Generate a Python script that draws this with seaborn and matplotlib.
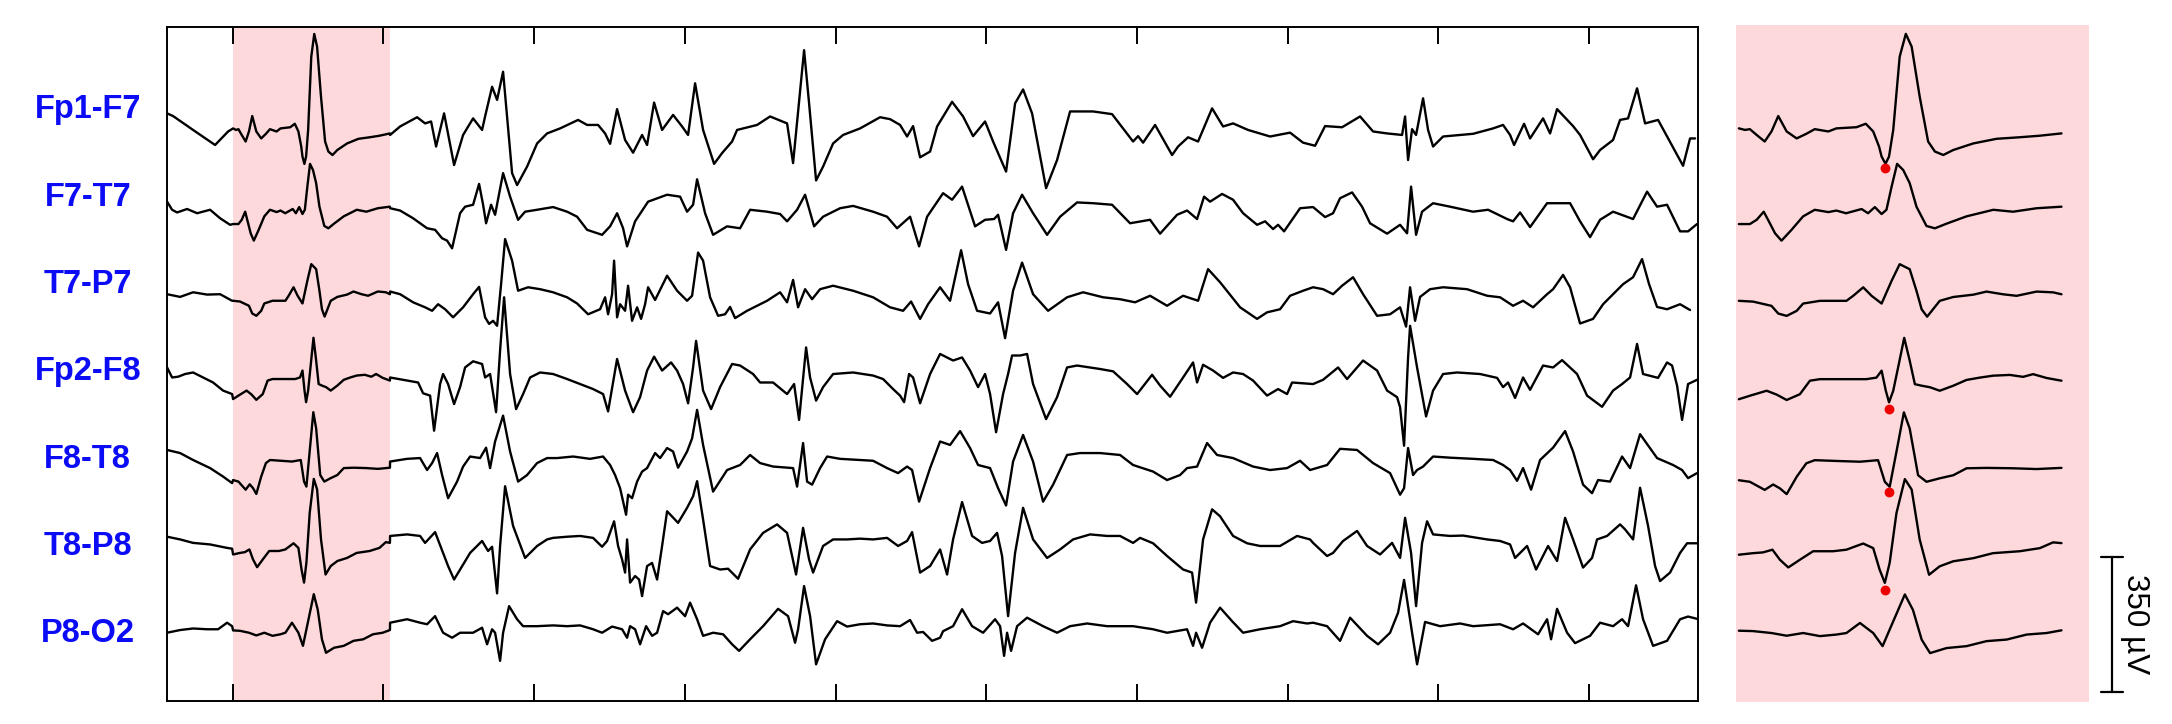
import numpy as np
import pandas as pd
import matplotlib.pyplot as plt
import seaborn as sns

# recording: main strip in samples, highlighted window (right panel) in ms
FS = 150.7            # samples per second (tick every second)
WIN = (151, 308)      # highlighted window in samples
WIN_MS = 1000         # window length shown on the right
STEP_UV = 215         # vertical spacing between channels

CHANNELS = ["Fp1-F7", "F7-T7", "T7-P7", "Fp2-F8", "F8-T8", "T8-P8", "P8-O2"]

# (sample, uV) outside the window
FP1F7 = [(85, 43), (91, 36), (111, 0), (133, -39), (146, -4),
         (308, -13), (318, 9), (335, 33), (343, 17), (349, 22), (354, -43), (362, 43), (372, -91), (381, -13),
         (391, 30), (400, 0), (403, 35), (410, 112), (415, 78), (421, 151), (430, -112), (435, -143), (445, -95),
         (455, -35), (465, -9), (478, 4), (496, 26), (505, 13), (516, 13), (523, -9), (528, -36), (535, 54),
         (543, -26), (551, -59), (560, -13), (565, -39), (572, 71), (580, 0), (591, 39), (600, 9), (606, -13),
         (613, 121), (621, 0), (632, -88), (640, -60), (650, -30), (655, 0), (675, 13), (688, 35), (705, 17),
         (711, -86), (722, 207), (727, 69), (734, -131), (741, -95), (751, -35), (761, -13), (778, 4), (798, 33),
         (808, 28), (818, 13), (825, -17), (831, 10), (838, -71), (848, -56), (855, 9), (870, 73), (881, 35),
         (891, -16), (903, 22), (911, -30), (924, -108), (933, 69), (941, 105), (950, 43), (964, -151), (975, -78),
         (988, 48), (1011, 48), (1030, 41), (1051, -30), (1056, -16), (1061, -33), (1073, 13), (1090, -65),
         (1096, -43), (1106, -19), (1116, -30), (1130, 56), (1141, 9), (1151, 17), (1166, 0), (1188, -17),
         (1208, -7), (1221, -33), (1233, -41), (1243, 10), (1260, 7), (1278, 35), (1291, -4), (1305, -9),
         (1320, -13), (1323, 35), (1326, -78), (1330, 2), (1334, -13), (1341, 82), (1346, 0), (1351, -43),
         (1361, -17), (1391, -10), (1411, 4), (1421, 13), (1428, -13), (1432, -39), (1442, 16), (1448, -22),
         (1461, 30), (1468, -9), (1475, 54), (1491, 10), (1498, -13), (1511, -76), (1518, -52), (1531, -26),
         (1538, 26), (1546, 30), (1555, 108), (1563, 17), (1576, 26), (1601, -93), (1608, -22), (1613, -22)]

F7T7 = [(85, 29), (90, 8), (95, 1), (105, 10), (115, -1), (128, 8), (138, -14), (148, -31),
        (308, 12), (318, 6), (331, -14), (345, -40), (353, -44), (360, -66), (365, -72), (370, -92), (378, -1),
        (383, 16), (391, 21), (397, 75), (401, 21), (404, -27), (409, 21), (413, -5), (421, 103), (428, 42),
        (436, -18), (443, 3), (455, 8), (471, 15), (485, 3), (495, -10), (505, -44), (520, -57), (528, -35),
        (535, -1), (541, -40), (545, -87), (553, -22), (566, 29), (585, 47), (598, 42), (605, 3), (611, 21),
        (615, 87), (623, -1), (631, -57), (645, -35), (658, -40), (668, 8), (685, 3), (698, -3), (705, -22),
        (715, 8), (723, 47), (732, -35), (741, -10), (758, 12), (771, 18), (791, 3), (805, -10), (815, -40),
        (828, -10), (837, -87), (845, -10), (861, 51), (870, 34), (880, 68), (893, -35), (903, -18), (912, -16),
        (916, -5), (924, -96), (931, -1), (940, 47), (951, -1), (965, -57), (978, -10), (995, 27), (1011, 25),
        (1030, 21), (1048, -27), (1068, -18), (1078, -54), (1095, -5), (1105, 6), (1115, -16), (1122, 42),
        (1128, 29), (1140, 49), (1151, 34), (1161, -1), (1175, -31), (1183, -22), (1191, -42), (1196, -31),
        (1202, -48), (1218, 12), (1231, 15), (1243, -11), (1251, -1), (1258, 38), (1270, 53), (1280, 16),
        (1288, -27), (1305, -54), (1318, -31), (1325, -53), (1329, 68), (1334, -57), (1340, 3), (1351, 25),
        (1368, 16), (1391, 3), (1406, 8), (1425, -16), (1431, -22), (1438, 1), (1448, -37), (1465, 25),
        (1475, 25), (1488, 25), (1498, -22), (1508, -63), (1518, -18), (1531, 3), (1551, -16), (1565, 55),
        (1575, 16), (1585, 21), (1598, -48), (1606, -48), (1615, -29)]

T7P7 = [(85, 4), (98, -3), (111, 9), (125, 3), (138, 4), (150, -13),
        (308, 11), (318, 4), (331, -17), (343, -30), (350, -39), (356, -22), (363, -35), (371, -56), (381, -30),
        (391, 4), (397, 23), (403, -56), (407, -73), (411, -65), (415, -78), (419, 30), (423, 147), (430, 91),
        (436, 13), (446, 22), (458, 17), (471, 9), (485, -4), (495, -20), (506, -48), (518, -35), (523, -4),
        (526, -48), (530, 4), (532, 91), (535, -56), (538, -22), (543, -39), (546, 26), (550, -65), (555, -30),
        (559, -60), (563, -22), (566, 22), (573, -11), (585, 52), (595, 13), (605, -13), (610, 0), (616, 112),
        (621, 91), (628, -4), (636, -52), (643, -48), (648, -29), (653, -58), (665, -39), (685, -13), (698, 9),
        (705, -17), (711, 41), (716, -30), (723, 17), (730, -9), (738, 17), (751, 26), (771, 13), (791, -4),
        (808, -30), (821, -39), (829, -15), (838, -60), (846, -22), (858, 22), (868, -13), (879, 118), (886, 30),
        (895, -39), (908, -46), (916, -17), (923, -110), (931, 13), (940, 86), (951, 4), (966, -39), (985, -4),
        (1001, 9), (1021, -4), (1038, -9), (1053, -17), (1068, 0), (1085, -26), (1101, 0), (1116, -13),
        (1126, 69), (1138, 35), (1158, -30), (1175, -60), (1185, -43), (1198, -35), (1208, 0), (1221, 13),
        (1231, 22), (1241, 17), (1251, 4), (1260, 26), (1271, 48), (1281, 4), (1295, -52), (1308, -48),
        (1318, -30), (1324, -80), (1328, 22), (1333, -65), (1338, -3), (1348, 17), (1361, 22), (1385, 17),
        (1405, 0), (1418, -4), (1431, -26), (1441, -13), (1451, -30), (1465, 4), (1471, 17), (1481, 54),
        (1488, 22), (1498, -72), (1511, -60), (1521, -22), (1531, 4), (1541, 30), (1551, 48), (1560, 95),
        (1567, 30), (1575, -29), (1585, -35), (1598, -22), (1608, -37)]

FP2F8 = [(85, 29), (90, 3), (96, 5), (103, 12), (111, 16), (121, 3), (131, -10), (141, -31), (150, -40),
         (308, 3), (325, -5), (336, -10), (341, -38), (348, -44), (352, -135), (358, -14), (361, 12), (366, -14),
         (372, -66), (378, -22), (383, 29), (391, 45), (400, 38), (403, 3), (408, 12), (414, -87), (418, 73),
         (422, 211), (428, 12), (434, -79), (441, -40), (448, 3), (458, 16), (471, 12), (485, -1), (498, -14),
         (511, -27), (521, -40), (526, -85), (535, 51), (543, -31), (551, -87), (558, -48), (565, 21), (572, 57),
         (580, 21), (589, 42), (595, 21), (601, -14), (606, -64), (611, 29), (614, 98), (621, -31), (629, -79),
         (638, -22), (650, 38), (658, 34), (671, 12), (678, -10), (691, -10), (705, -40), (712, -14), (717, -107),
         (724, 81), (728, 3), (734, -57), (741, -22), (751, 12), (771, 16), (791, 8), (801, -1), (811, -27),
         (818, -44), (822, -61), (827, 12), (831, 3), (838, -64), (848, 12), (858, 64), (871, 47), (880, 55),
         (888, 21), (896, -22), (903, 12), (908, -40), (914, -139), (921, -40), (926, 12), (930, 60), (938, 60),
         (945, 64), (951, -14), (964, -105), (975, -48), (985, 29), (995, 34), (1018, 25), (1031, 19),
         (1045, -14), (1055, -40), (1070, 10), (1078, -18), (1088, -47), (1101, 3), (1111, 42), (1115, -10),
         (1121, 36), (1131, 21), (1141, 2), (1151, 16), (1161, 12), (1171, -5), (1185, -44), (1196, -27),
         (1205, -40), (1210, -10), (1221, -12), (1231, -14), (1241, -3), (1256, 29), (1265, -1), (1281, 47),
         (1295, 21), (1305, -31), (1315, -48), (1318, -74), (1322, -174), (1326, 55), (1328, 137), (1335, 29),
         (1344, -98), (1351, -31), (1361, 12), (1375, 16), (1398, 12), (1415, 2), (1421, -22), (1426, -10),
         (1433, -50), (1441, 3), (1448, -29), (1461, 34), (1471, 29), (1480, 48), (1495, 12), (1505, -44),
         (1520, -73), (1531, -31), (1540, -14), (1548, 3), (1555, 90), (1561, 12), (1576, 2), (1585, 42),
         (1590, 34), (1595, -18), (1600, -107), (1606, -14), (1615, -3)]

F8T8 = [(85, 30), (98, 22), (111, 4), (128, -17), (141, -39), (150, -56),
        (308, 0), (325, 7), (338, 9), (345, -22), (350, -4), (355, 22), (360, -35), (366, -95), (375, -52),
        (381, -13), (388, 13), (398, 9), (404, 36), (408, -17), (413, 52), (421, 119), (428, 26), (436, -52),
        (445, -35), (455, -4), (465, 9), (475, 9), (491, 13), (508, 7), (521, 13), (528, -9), (533, -35),
        (538, -69), (541, -104), (544, -138), (546, -86), (550, -95), (555, -52), (560, -26), (565, -17),
        (573, 22), (578, 9), (585, 35), (591, 26), (596, -16), (605, 26), (610, 60), (615, 134), (621, 43),
        (631, -78), (645, -22), (658, -9), (668, 17), (678, -4), (691, -13), (705, -16), (711, -17), (715, -65),
        (721, 48), (725, -52), (730, -60), (738, -17), (745, 13), (758, 7), (778, 4), (791, 2), (805, -17),
        (816, -30), (825, -13), (830, -22), (837, -104), (848, -17), (858, 52), (868, 43), (878, 79), (888, 35),
        (896, -9), (908, -17), (916, -69), (924, -114), (931, 0), (941, 69), (951, 0), (961, -104), (971, -60),
        (985, 17), (998, 22), (1018, 22), (1038, 17), (1051, -9), (1071, -26), (1085, -48), (1098, -35),
        (1105, -17), (1115, -13), (1125, 48), (1135, 17), (1151, 9), (1171, -13), (1188, -22), (1205, -17),
        (1218, 2), (1228, -22), (1245, -9), (1258, 33), (1275, 30), (1291, -4), (1308, -30), (1318, -86),
        (1322, -69), (1326, 35), (1331, -35), (1335, -22), (1341, -13), (1351, 13), (1368, 10), (1391, 7),
        (1411, 4), (1421, -9), (1428, -22), (1435, -50), (1441, -17), (1449, -73), (1458, 4), (1471, 36),
        (1483, 79), (1491, 26), (1501, -60), (1510, -82), (1516, -48), (1528, -52), (1540, 13), (1548, -17),
        (1558, 71), (1575, 9), (1591, -9), (1600, -22), (1606, -43), (1615, -30)]

T8P8 = [(85, 20), (98, 13), (111, 4), (128, 0), (145, -9), (150, -11),
        (308, 22), (325, 26), (338, 22), (343, 4), (353, 32), (361, -22), (366, -56), (372, -91), (378, -65),
        (388, -22), (400, 9), (406, -17), (410, -6), (415, -127), (418, -4), (423, 151), (431, 48), (443, -35),
        (455, -4), (465, 13), (471, 17), (485, 20), (498, 22), (511, 17), (520, -6), (525, 9), (532, 60),
        (536, -4), (540, -39), (543, -73), (545, 13), (548, -99), (553, -82), (557, -91), (560, -134), (565, -56),
        (570, -48), (575, -91), (580, -4), (585, 86), (596, 56), (605, 95), (611, 125), (615, 164), (621, 65),
        (628, -56), (638, -65), (646, -63), (656, -89), (668, -13), (681, 30), (695, 52), (705, 30), (714, -78),
        (721, 43), (727, -39), (731, -73), (741, -4), (751, 13), (765, 13), (778, 15), (791, 13), (805, 17),
        (816, -4), (825, 9), (830, 32), (838, -73), (848, -56), (858, -13), (865, -78), (871, 13), (880, 110),
        (890, 22), (900, 4), (908, 9), (915, 30), (920, -30), (926, -186), (933, -22), (941, 95), (951, 13),
        (965, -35), (978, -13), (991, 13), (1008, 26), (1025, 22), (1038, 22), (1051, 4), (1058, 17), (1071, 3),
        (1085, -30), (1101, -65), (1110, -73), (1114, -151), (1121, 13), (1130, 91), (1138, 73), (1151, 22),
        (1165, 3), (1178, -4), (1198, -4), (1215, 22), (1228, 13), (1231, 4), (1245, -30), (1251, -22),
        (1261, 9), (1275, 35), (1285, -4), (1298, -26), (1310, 4), (1318, -35), (1323, 69), (1329, -22),
        (1334, -160), (1340, 4), (1345, 60), (1351, 26), (1368, 22), (1381, 23), (1405, 13), (1418, 9),
        (1428, 0), (1433, -35), (1445, -4), (1454, -65), (1466, -4), (1475, -43), (1483, 69), (1491, 13),
        (1501, -60), (1510, -35), (1515, 13), (1525, 22), (1538, 52), (1543, 39), (1551, 13), (1558, 147),
        (1566, 48), (1573, -56), (1578, -95), (1588, -73), (1598, -22), (1605, 3), (1615, 3)]

P8O2 = [(85, -14), (98, -7), (111, -3), (125, -5), (136, -5), (145, 12), (150, 3),
        (308, 12), (325, 21), (338, 12), (345, 8), (353, 29), (361, -14), (370, -27), (378, -14), (391, -14),
        (400, -1), (405, -44), (410, -5), (413, -14), (418, -87), (421, -14), (427, 55), (435, 21), (441, 3),
        (455, 3), (471, 5), (485, 3), (498, 5), (511, -5), (520, -14), (530, 2), (540, -5), (545, -27), (548, 3),
        (553, -5), (558, -44), (564, 3), (570, -22), (575, -14), (581, 42), (586, 34), (595, 51), (603, 29),
        (608, 64), (615, 21), (621, -22), (631, -14), (641, -18), (650, -44), (657, -61), (668, -31), (681, 3),
        (696, 48), (706, 29), (713, -40), (716, -5), (722, 107), (728, 29), (734, -96), (743, -31), (755, 16),
        (765, 2), (778, 8), (791, 10), (805, 5), (818, 3), (828, 19), (835, -14), (841, -12), (850, -35),
        (858, -27), (861, -10), (871, 3), (880, 47), (890, 3), (901, -14), (913, 21), (918, 3), (922, -74),
        (925, -14), (929, -61), (935, 3), (945, 25), (961, 3), (975, -14), (988, 3), (1005, 10), (1025, 3),
        (1051, 3), (1071, -5), (1085, -14), (1105, -5), (1111, -48), (1114, -14), (1120, -53), (1128, 12),
        (1138, 51), (1150, 16), (1161, -14), (1178, -5), (1198, 3), (1211, 16), (1225, 10), (1231, 12),
        (1245, 3), (1258, -35), (1268, 25), (1285, -22), (1296, -44), (1308, -14), (1316, 38), (1322, 123),
        (1330, -14), (1335, -96), (1343, 14), (1358, 3), (1378, 10), (1391, 3), (1418, 8), (1431, -5),
        (1441, 10), (1456, -18), (1465, 21), (1469, -31), (1475, 48), (1485, -14), (1493, -41), (1508, -22),
        (1518, 12), (1531, 3), (1540, 21), (1546, 3), (1554, 109), (1561, 21), (1571, -48), (1585, -35),
        (1598, 21), (1606, 28), (1615, 22)]

# (ms, uV) inside the highlighted window
FP1F7_WIN = [(0, 4), (19, 0), (34, 2), (55, -13), (80, -30), (101, -4), (122, 36), (148, -4), (179, -22),
             (209, -10), (235, 2), (277, -4), (302, 4), (364, 7), (393, 16), (416, -4), (434, -43), (442, -69),
             (454, -88), (465, -69), (478, 0), (498, 190), (517, 249), (535, 216), (560, 86), (586, -30),
             (607, -56), (633, -65), (664, -52), (726, -35), (798, -23), (870, -19), (932, -15), (999, -9)]
F7T7_WIN = [(0, -29), (34, -29), (55, -18), (77, 3), (96, -27), (112, -53), (132, -72), (163, -44), (199, -9),
            (235, 8), (277, 2), (302, 6), (332, -1), (380, 10), (400, -1), (421, 15), (442, -3), (457, 8),
            (473, 68), (490, 127), (509, 111), (529, 77), (550, 16), (581, -34), (607, -40), (643, -28),
            (705, -9), (788, 8), (849, 3), (922, 12), (999, 16)]
T7P7_WIN = [(0, -13), (44, -15), (101, -26), (122, -46), (148, -52), (179, -39), (199, -20), (251, -13),
            (333, -13), (354, 0), (385, 22), (411, 0), (442, -20), (473, 39), (498, 82), (529, 69), (550, 13),
            (566, -35), (583, -54), (622, -13), (664, -3), (726, 3), (767, 11), (818, 4), (860, 0), (922, 11),
            (973, 9), (999, 4)]
FP2F8_WIN = [(0, -53), (34, -44), (86, -31), (117, -41), (148, -55), (189, -40), (220, -5), (251, -1),
             (333, -1), (395, -1), (426, 3), (442, 21), (455, -31), (465, -61), (478, -31), (493, 29),
             (512, 106), (529, 47), (545, -14), (566, -18), (592, -22), (622, -31), (664, -18), (705, -3),
             (746, 3), (787, 8), (839, 10), (880, 5), (911, 12), (953, 2), (999, -5)]
F8T8_WIN = [(0, -48), (34, -52), (80, -73), (106, -59), (127, -69), (148, -84), (179, -39), (209, -4),
            (235, 4), (302, 2), (375, 0), (431, 4), (452, -52), (467, -65), (488, 26), (511, 128), (529, 86),
            (555, -35), (581, -52), (622, -43), (664, -35), (705, -17), (767, -16), (849, -17), (922, -19),
            (999, -16)]
T8P8_WIN = [(0, -26), (44, -22), (75, -20), (104, -13), (127, -39), (153, -59), (189, -39), (230, -17),
            (292, -17), (333, -13), (385, 3), (416, -9), (436, -65), (452, -99), (467, -47), (488, 82),
            (514, 170), (535, 143), (560, 13), (589, -78), (622, -56), (664, -43), (726, -35), (787, -22),
            (870, -17), (932, -9), (973, 6), (999, 4)]
P8O2_WIN = [(0, -8), (44, -9), (101, -14), (148, -21), (199, -14), (251, -22), (302, -18), (333, -14),
            (375, 12), (416, -14), (445, -48), (467, -5), (514, 86), (539, 46), (566, -31), (592, -66),
            (643, -53), (705, -48), (767, -35), (829, -31), (891, -18), (953, -14), (999, -7)]

# marked spike onsets in the window
MARK_CH = [0, 3, 4, 5]
MARK_MS = [452, 465, 465, 452]
MARK_UV = [-99, -79, -79, -117]

SCALE_UV = 350

STRIP = [FP1F7, F7T7, T7P7, FP2F8, F8T8, T8P8, P8O2]
WINDOW = [FP1F7_WIN, F7T7_WIN, T7P7_WIN, FP2F8_WIN, F8T8_WIN, T8P8_WIN, P8O2_WIN]

PINK = "#fdd9db"
BLUE = "#0b0bf5"

sns.set_style("white")
plt.rcParams["font.family"] = ["Liberation Sans", "DejaVu Sans"]
plt.rcParams["lines.solid_joinstyle"] = "round"
plt.rcParams["lines.solid_capstyle"] = "round"

rows_main, rows_win = [], []
for i, ch in enumerate(CHANNELS):
    w = np.array(WINDOW[i], dtype=float)
    n_w = WIN[0] + w[:, 0] / WIN_MS * (WIN[1] - WIN[0])
    s = np.array(STRIP[i], dtype=float)
    n = np.concatenate([s[:, 0], n_w])
    uv = np.concatenate([s[:, 1], w[:, 1]])
    order = np.argsort(n, kind="stable")
    rows_main.append(pd.DataFrame({"channel": ch, "sample": n[order], "uv": uv[order] - i * STEP_UV}))
    rows_win.append(pd.DataFrame({"channel": ch, "ms": w[:, 0], "uv": w[:, 1] - i * STEP_UV}))
main_df = pd.concat(rows_main, ignore_index=True)
win_df = pd.concat(rows_win, ignore_index=True)

fig = plt.figure(figsize=(21.72, 7.24), dpi=100)
ax = fig.add_axes([0.0767, 0.0318, 0.7051, 0.9309])
ax2 = fig.add_axes([0.7991, 0.0308, 0.1628, 0.9347])

# main strip
ax.axvspan(WIN[0], WIN[1], color=PINK, lw=0, zorder=0)
for ch in CHANNELS:
    sns.lineplot(data=main_df[main_df.channel == ch], x="sample", y="uv", ax=ax,
                 color="black", lw=1.7, estimator=None, sort=False)
ax.set_xlim(84.5, 1616)
ax.set_ylim(-1481, 267)
ax.set_xticks([FS * k for k in range(1, 11)])
ax.set_xticklabels([])
ax.set_yticks([])
ax.set_xlabel("")
ax.set_ylabel("")
ax.tick_params(axis="x", direction="in", top=True, bottom=True, length=12, width=1.4, color="black")
for sp in ax.spines.values():
    sp.set_visible(True)
    sp.set_color("black")
    sp.set_linewidth(1.4)

for i, ch in enumerate(CHANNELS):
    ax.text(-0.0515, 0.877 - 0.1296 * i, ch, transform=ax.transAxes, ha="center", va="center",
            color=BLUE, fontsize=23.5, fontweight="bold")

# zoomed window
ax2.set_facecolor(PINK)
for ch in CHANNELS:
    sns.lineplot(data=win_df[win_df.channel == ch], x="ms", y="uv", ax=ax2,
                 color="black", lw=1.7, estimator=None, sort=False)
mark_y = [MARK_UV[k] - MARK_CH[k] * STEP_UV for k in range(len(MARK_CH))]
ax2.scatter(MARK_MS, mark_y, s=50, color="#ee0000", zorder=5, lw=0)
ax2.set_xlim(-10, 1085)
ax2.set_ylim(-1482, 272)
ax2.set_xticks([])
ax2.set_yticks([])
ax2.set_xlabel("")
ax2.set_ylabel("")
for sp in ax2.spines.values():
    sp.set_visible(False)

# scale bar
bar_x = 1154
bar_lo = -1456
ax2.plot([bar_x, bar_x], [bar_lo, bar_lo + SCALE_UV], color="black", lw=1.6, clip_on=False)
for yy in (bar_lo, bar_lo + SCALE_UV):
    ax2.plot([bar_x - 34, bar_x + 34], [yy, yy], color="black", lw=1.6, clip_on=False)
ax2.text(bar_x + 74, bar_lo + SCALE_UV / 2, f"{SCALE_UV} µV", rotation=-90, ha="center", va="center",
         fontsize=22.6, color="black", clip_on=False)

fig.savefig("out.png", dpi=100)
